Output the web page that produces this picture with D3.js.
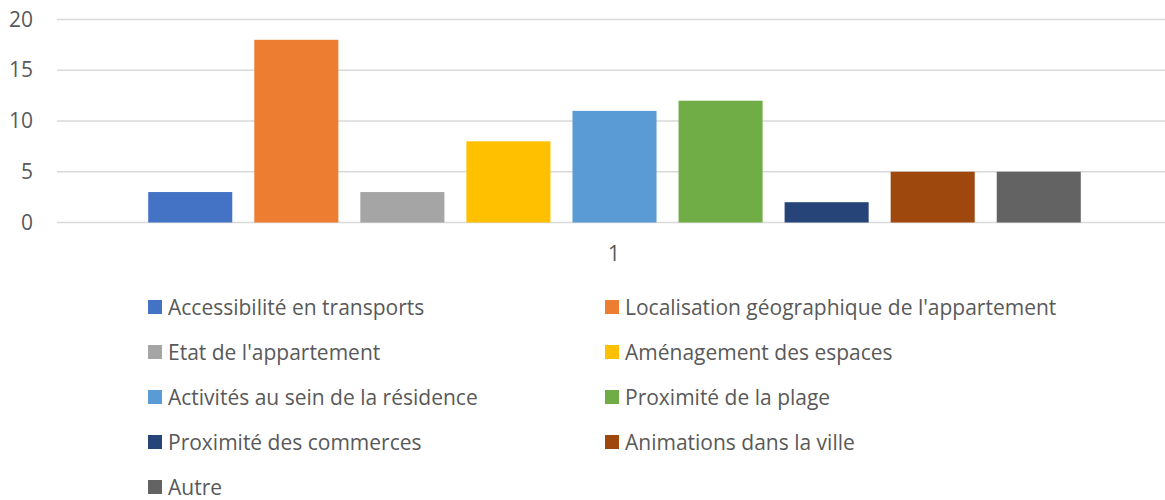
<!doctype html>
<html>
  <head>
    <meta charset="utf-8">
    <title>Critères de choix</title>
    <script src="https://cdnjs.cloudflare.com/ajax/libs/d3/7.8.5/d3.min.js"></script>
    <style>
      body { margin: 0; background: #fff; }
      text { font-family: "Open Sans", sans-serif; fill: #595959; }
    </style>
  </head>
  <body>
    <div id="chart"></div>
    <script>
      // data
      const categories = [
        'Accessibilité en transports',
        "Localisation géographique de l'appartement",
        "Etat de l'appartement",
        'Aménagement des espaces',
        'Activités au sein de la résidence',
        'Proximité de la plage',
        'Proximité des commerces',
        'Animations dans la ville',
        'Autre'
      ]
      const values = [3, 18, 3, 8, 11, 12, 2, 5, 5]
      const groups = ['1']
      const yTicks = [0, 5, 10, 15, 20]
      const colors = ['#4472C4', '#ED7D31', '#A5A5A5', '#FFC000', '#5B9BD5',
                      '#70AD47', '#264478', '#9E480E', '#636363']

      const width = 1165, height = 500
      const fontSize = 21

      const svg = d3.select('#chart').append('svg')
        .attr('width', width)
        .attr('height', height)

      // scales
      const y = d3.scaleLinear().domain([0, 20]).range([222.5, 19.5])
      const x0 = d3.scaleBand().domain(groups).range([57, 1172])
      const x1 = d3.scaleBand().domain(categories)
        .range([0, x0.bandwidth()])
        .paddingInner(0.2075)
        .paddingOuter(0.86)
      const color = d3.scaleOrdinal().domain(categories).range(colors)

      // gridlines
      svg.selectAll('line.grid')
        .data(yTicks)
        .join('line')
        .attr('class', 'grid')
        .attr('x1', 57)
        .attr('x2', width)
        .attr('y1', d => y(d))
        .attr('y2', d => y(d))
        .attr('stroke', '#d9d9d9')
        .attr('stroke-width', 1.3)

      // y labels
      svg.selectAll('text.ytick')
        .data(yTicks)
        .join('text')
        .attr('class', 'ytick')
        .attr('x', 33)
        .attr('y', d => y(d) + 7)
        .attr('text-anchor', 'end')
        .style('font-size', fontSize + 'px')
        .text(d => d)

      // bars
      const rows = categories.map((c, i) => ({ group: groups[0], cat: c, value: values[i] }))
      svg.selectAll('rect.bar')
        .data(rows)
        .join('rect')
        .attr('class', 'bar')
        .attr('x', d => x0(d.group) + x1(d.cat))
        .attr('width', x1.bandwidth())
        .attr('y', d => y(d.value))
        .attr('height', d => y(0) - y(d.value))
        .attr('fill', d => color(d.cat))

      // category label
      svg.selectAll('text.xlab')
        .data(groups)
        .join('text')
        .attr('class', 'xlab')
        .attr('x', d => x0(d) + x0.bandwidth() / 2 - 0.5)
        .attr('y', 261)
        .attr('text-anchor', 'middle')
        .style('font-size', fontSize + 'px')
        .text(d => d)

      // legend, two columns
      const legendX = [148, 605]
      const legend = svg.selectAll('g.legend')
        .data(categories)
        .join('g')
        .attr('class', 'legend')
        .attr('transform', (d, i) => `translate(${legendX[i % 2]},${307 + Math.floor(i / 2) * 45})`)

      legend.append('rect')
        .attr('x', 0)
        .attr('y', -7)
        .attr('width', 14)
        .attr('height', 14)
        .attr('fill', d => color(d))

      legend.append('text')
        .attr('x', 20)
        .attr('y', 7.5)
        .style('font-size', fontSize + 'px')
        .text(d => d)
    </script>
  </body>
</html>
